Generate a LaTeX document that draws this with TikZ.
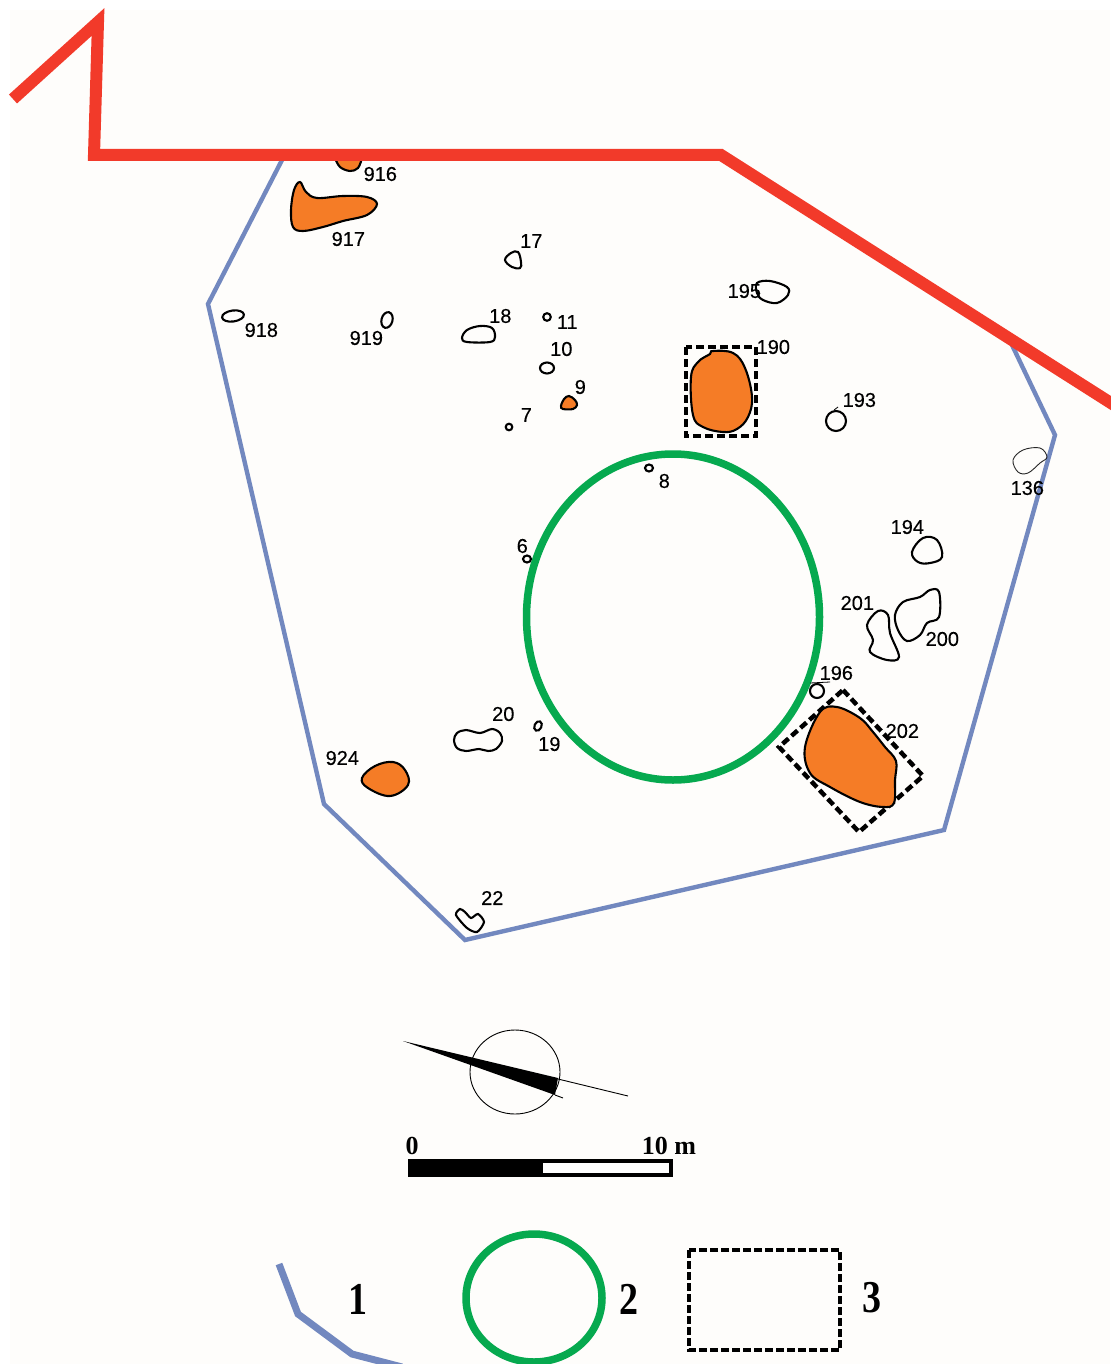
\documentclass[tikz,border=0pt]{standalone}
\usepackage{fontspec}
\setmainfont{Liberation Sans}
\newfontfamily\numfont[FakeBold=0.25]{Liberation Sans}
\newfontfamily\serifnum{Liberation Serif}
\definecolor{bgc}{HTML}{FEFDFB}
\definecolor{redl}{HTML}{F23A2A}
\definecolor{bluel}{HTML}{7288BF}
\definecolor{greenl}{HTML}{06A94F}
\definecolor{orangef}{HTML}{F57C26}
\tikzset{
  pit/.style={draw=black,line width=2.1pt,fill=none},
  firepit/.style={draw=black,line width=2.1pt,fill=orangef},
  num/.style={font=\numfont\fontsize{20}{20}\selectfont,text=black,inner sep=0pt,xshift=0.3pt},
  leg/.style={font=\serifnum\bfseries\fontsize{38}{38}\selectfont,inner sep=0pt},
  scalet/.style={font=\serifnum\bfseries\fontsize{26}{26}\selectfont,inner sep=0pt},
  bound/.style={draw=bluel,line width=4.4pt,line join=miter},
  wall/.style={draw=redl,line width=12pt,line join=miter},
  ringl/.style={draw=greenl,line width=7.5pt},
  dashb/.style={draw=black,line width=4.5pt,dash pattern=on 8pt off 4pt},
}
\begin{document}
\begin{tikzpicture}[x=1pt,y=-1pt]
\useasboundingbox (0,0) rectangle (1110,1364);
\fill[white] (0,0) rectangle (1110,1364);
\fill[bgc] (10,10) rectangle (1110,1364);
% boundary
\draw[bound] (282,160) -- (208,304) -- (324,804) -- (465,940) -- (944,830) -- (1055,435) -- (1012,345);
% pit 916 (partly under the wall)
\draw[firepit] plot[smooth,tension=0.6] coordinates {(335,158) (340,167) (350,171) (358,168) (362,158)};
% wall
\draw[wall] (13,99) -- (98,22) -- (94,155) -- (721,155) -- (1114,405);
% ring
\draw[ringl] (673,617) ellipse [x radius=146.5,y radius=163];
% dashed frames
\draw[dashb] (686,347) rectangle (756,436);
\draw[dashb] (843,690) -- (923,776) -- (859,832) -- (779,747) -- cycle;
% orange pits
\draw[firepit] plot[smooth cycle,tension=0.6] coordinates {(300,182) (306,192) (317,198) (343,196) (367,197) (377,204) (367,215) (343,221) (323,227) (303,231) (293,227) (291,210) (294,190)};
\draw[firepit] plot[smooth cycle,tension=0.6] coordinates {(561,406) (564,399) (569,396) (575,400) (577,405) (573,409) (563,409)};
\draw[firepit] plot[smooth cycle,tension=0.65] coordinates {(710,354) (713,351) (733,353) (745,368) (752,397) (748,417) (737,429) (723,432) (703,427) (693,415) (691,377) (698,362)};
\draw[firepit] plot[smooth cycle,tension=0.6] coordinates {(837,707) (860,718) (873,732) (885,747) (896,761) (895,780) (894,803) (883,807) (860,802) (830,787) (810,773) (805,747) (820,712)};
\draw[firepit] plot[smooth cycle,tension=0.65] coordinates {(362,778) (375,766) (393,762) (405,770) (408,785) (390,796) (368,788)};
% open pits
\draw[pit] (233,316) ellipse [x radius=11,y radius=5.5,rotate=8];
\draw[pit] (387,320) ellipse [x radius=5.5,y radius=8,rotate=-15];
\draw[pit] plot[smooth cycle,tension=0.65] coordinates {(505,260) (511,253) (518,252) (521,262) (520,268) (512,267)};
\draw[pit] plot[smooth cycle,tension=0.6] coordinates {(462,338) (467,330) (480,326) (492,328) (495,337) (490,342) (467,342)};
\draw[pit] (547,317) circle [radius=3.8];
\draw[pit] (547,368) ellipse [x radius=7,y radius=5.5];
\draw[pit] (509,427) circle [radius=3.3];
\draw[pit] plot[smooth cycle,tension=0.6] coordinates {(757,283) (770,281) (787,287) (788,295) (777,303) (763,300) (757,293)};
\draw[pit] (836,421) circle [radius=10];
\draw[line width=0.8pt] (834,410) -- (838,407);
\draw[draw=black!85,line width=0.9pt] plot[smooth cycle,tension=0.6] coordinates {(1013,460) (1023,450) (1040,448) (1047,457) (1040,463) (1028,473) (1018,472)};
\draw[pit] plot[smooth cycle,tension=0.65] coordinates {(912,552) (923,538) (937,540) (942,557) (930,563) (918,562)};
\draw[pit] plot[smooth cycle,tension=0.6] coordinates {(895,615) (903,602) (920,597) (930,590) (939,592) (939,617) (927,623) (920,635) (907,641) (898,630)};
\draw[pit] plot[smooth cycle,tension=0.6] coordinates {(867,625) (878,611) (888,615) (890,633) (899,657) (887,660) (870,652) (873,640)};
\draw[pit] (817,691) circle [radius=7];
\draw[line width=0.8pt] (810,683) -- (830,682);
\draw[pit] (649,468) ellipse [x radius=4,y radius=3.5];
\draw[pit] (527,559) ellipse [x radius=4,y radius=3.5];
\draw[pit] (538,726) ellipse [x radius=3.5,y radius=5,rotate=-25];
\draw[pit] plot[smooth cycle,tension=0.55] coordinates {(454,740) (457,733) (466,730) (480,733) (492,729) (500,733) (502,741) (496,749) (488,751) (479,749) (466,751) (457,748)};
\draw[pit] plot[smooth cycle,tension=0.45] coordinates {(456,915) (460,909) (465,912) (471,918) (478,914) (484,922) (477,932) (467,928)};
% labels
\node[num] (n916) at (380,174) {916};
\node[num] (n917) at (348,239) {917};
\node[num] (n17) at (531,241) {17};
\node[num] (n18) at (500,316) {18};
\node[num] (n11) at (567,322) {11};
\node[num] (n10) at (561,349) {10};
\node[num] (n9) at (580,387) {9};
\node[num] (n7) at (526,415) {7};
\node[num] (n918) at (261,330) {918};
\node[num] (n919) at (366,338) {919};
\node[num] (n195) at (744,291) {195};
\node[num] (n190) at (773,347) {190};
\node[num] (n193) at (859,400) {193};
\node[num] (n136) at (1027,488) {136};
\node[num] (n194) at (907,527) {194};
\node[num] (n201) at (857,603) {201};
\node[num] (n200) at (942,639) {200};
\node[num] (n196) at (836,673) {196};
\node[num] (n202) at (902,731) {202};
\node[num] (n8) at (664,481) {8};
\node[num] (n6) at (522,546) {6};
\node[num] (n20) at (503,714) {20};
\node[num] (n19) at (549,744) {19};
\node[num] (n924) at (342,758) {924};
\node[num] (n22) at (492,898) {22};
% north arrow
\draw[line width=0.9pt] (515,1072) ellipse [x radius=45,y radius=42];
\fill[black] (403,1041) -- (558,1078) -- (555,1095) -- cycle;
\draw[line width=0.9pt] (558,1079) -- (628,1096);
\draw[line width=0.9pt] (555,1095) -- (563,1098);
% scale bar
\fill[black] (408,1159) rectangle (673,1177);
\fill[white] (543,1163) rectangle (669,1173);
\node[scalet] (s0) at (412,1146) {0};
\node[scalet] (s10) at (669,1146) {10 m};
% legend
\draw[bound,line width=7pt] (279,1264) -- (298,1314) -- (352,1354) -- (402,1367);
\node[leg] (l1) at (358,1299) {\scalebox{1}[1.2]{1}};
\draw[ringl] (534,1298) ellipse [x radius=68,y radius=64];
\node[leg] (l2) at (629,1299) {\scalebox{1}[1.2]{2}};
\draw[draw=black,line width=3.5pt,dash pattern=on 8pt off 3pt] (689,1250) rectangle (840,1350);
\node[leg] (l3) at (872,1298) {\scalebox{1}[1.2]{3}};
\end{tikzpicture}
\end{document}
